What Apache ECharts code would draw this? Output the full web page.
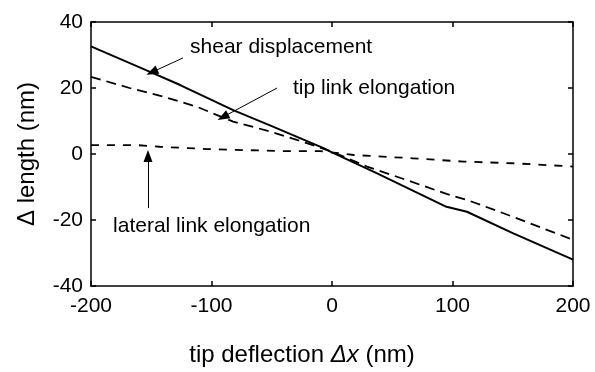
<!DOCTYPE html>
<html><head><meta charset="utf-8">
<script src="https://cdn.jsdelivr.net/npm/echarts@6/dist/echarts.min.js"></script>
<style>html,body{margin:0;padding:0;background:#fff}#c{width:595px;height:372px}</style>
</head><body><div id="c"></div>
<script>
var shearX = [-200,-151,-126,-82,-49,-29,-7,0,37,95,112,150,200];
var shearY = [32.6,24.9,20.9,13.3,8.3,5.2,1.8,0.5,-5.8,-16,-17.5,-24,-32];
var tipX = [-200,-168,-140,-112,-82,-51,-21,0,29,62,95,112,150,200];
var tipY = [23.4,20,17.4,14.3,9.8,6.8,3.3,0.7,-3.8,-7.9,-12.1,-13.9,-19,-26];
var latX = [-200,-162,-143,-104,-43,-10,18,67,109,150,200];
var latY = [2.7,2.7,2.2,1.5,0.9,0.9,-0.3,-1.3,-2.3,-2.8,-3.8];
var xTicks = [-200,-100,0,100,200];
var yTicks = [-40,-20,0,20,40];
var labels = ['shear displacement','tip link elongation','lateral link elongation'];
var labelPos = [[-117.8,32.4],[-32.4,20],[-181.7,-22]];
var arrowFrom = [[-123.7,29.1],[-45.6,20],[-152.7,-16.4]];
var arrowTo = [[-149.4,24.8],[-90.5,11.2],[-152.7,-0.6]];

function pairs(xs, ys){ return xs.map(function(x,i){return [x, ys[i]];}); }
var font = 'Liberation Sans, Arial, Helvetica, sans-serif';
var chart = echarts.init(document.getElementById('c'), null, {renderer:'canvas'});
var axisCommon = {
  axisLine:{show:true, onZero:false, lineStyle:{color:'#000', width:1.5}},
  axisTick:{show:true, inside:true, length:5, lineStyle:{color:'#000', width:1.5}},
  splitLine:{show:false}
};
function ax(o){ return Object.assign(JSON.parse(JSON.stringify(axisCommon)), o); }
chart.setOption({
  animation:false,
  backgroundColor:'#fff',
  grid:{left:91, right:22, top:22, bottom:86, containLabel:false},
  xAxis:[
    ax({type:'value', position:'bottom', min:xTicks[0], max:xTicks[xTicks.length-1], interval:100,
      axisLabel:{color:'#000', fontSize:21, fontFamily:font, margin:10},
      name:'tip deflection {i|Δx} (nm)', nameLocation:'middle', nameGap:57,
      nameTextStyle:{color:'#000', fontSize:24, fontFamily:font, padding:[0,60,0,0],
        rich:{i:{fontStyle:'italic', fontSize:24, fontFamily:font, color:'#000'}}}}),
    ax({type:'value', position:'top', min:xTicks[0], max:xTicks[xTicks.length-1], interval:100, axisLabel:{show:false}})
  ],
  yAxis:[
    ax({type:'value', position:'left', min:yTicks[0], max:yTicks[yTicks.length-1], interval:20,
      axisLabel:{color:'#000', fontSize:21, fontFamily:font, margin:8},
      name:'Δ length (nm)', nameLocation:'middle', nameGap:52, nameRotate:90,
      nameTextStyle:{color:'#000', fontSize:24, fontFamily:font}}),
    ax({type:'value', position:'right', min:yTicks[0], max:yTicks[yTicks.length-1], interval:20, axisLabel:{show:false}})
  ],
  series:[
    {type:'line', data:pairs(shearX, shearY), symbol:'none', lineStyle:{color:'#000', width:2}},
    {type:'line', data:pairs(tipX, tipY), symbol:'none', lineStyle:{color:'#000', width:1.8, type:[10,6]}},
    {type:'line', data:pairs(latX, latY), symbol:'none', lineStyle:{color:'#000', width:1.8, type:[8,8]}},
    {type:'line', data:[], symbol:'none',
      markLine:{silent:true, animation:false, symbol:['none','triangle'], symbolSize:[9,12],
        lineStyle:{color:'#000', width:1, type:'solid'}, label:{show:false},
        data: arrowFrom.map(function(f,i){ return [{coord:f},{coord:arrowTo[i]}]; })},
      markPoint:{silent:true, animation:false, symbol:'circle', symbolSize:0,
        label:{show:true, position:'right', distance:0, color:'#000', fontSize:21, fontFamily:font,
          formatter:function(p){return p.name;}},
        data: labels.map(function(t,i){ return {name:t, coord:labelPos[i]}; })}
    }
  ]
});
</script></body></html>
